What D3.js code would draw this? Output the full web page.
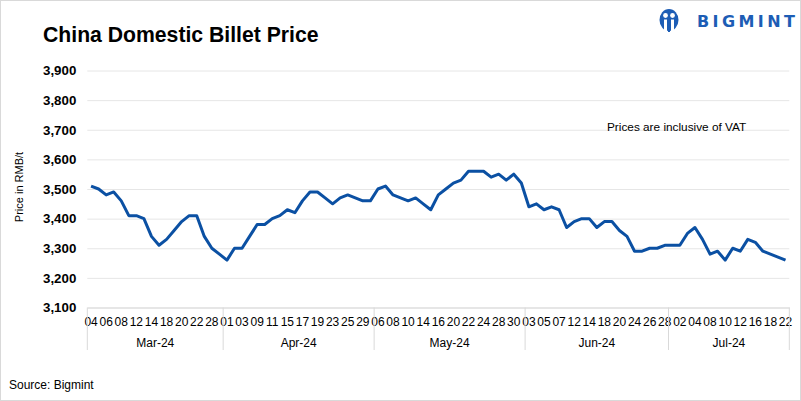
<!DOCTYPE html>
<html><head><meta charset="utf-8">
<script src="https://cdn.jsdelivr.net/npm/d3@7"></script>
<style>
body{margin:0;background:#fff;}
svg{display:block;font-family:"Liberation Sans",Arial,sans-serif;}
</style></head>
<body><svg id="c" width="801" height="401"></svg>
<script>
const months = ["Mar-24","Apr-24","May-24","Jun-24","Jul-24"];
const marDays = ["04","05","06","07","08","11","12","13","14","15","18","19","20","21","22","25","28","29"];
const aprDays = ["01","02","03","08","09","10","11","12","15","16","17","18","19","22","23","24","25","26","29","30"];
const mayDays = ["06","07","08","09","10","13","14","15","16","17","20","21","22","23","24","27","28","29","30","31"];
const junDays = ["03","04","05","06","07","11","12","13","14","17","18","19","20","21","24","25","26","27","28"];
const julDays = ["01","02","03","04","05","08","09","10","11","12","15","16","17","18","19","22"];
const marPrice = [3510,3500,3480,3490,3460,3410,3410,3400,3340,3310,3330,3360,3390,3410,3410,3340,3300,3280];
const aprPrice = [3260,3300,3300,3340,3380,3380,3400,3410,3430,3420,3460,3490,3490,3470,3450,3470,3480,3470,3460,3460];
const mayPrice = [3500,3510,3480,3470,3460,3470,3450,3430,3480,3500,3520,3530,3560,3560,3560,3540,3550,3530,3550,3520];
const junPrice = [3440,3450,3430,3440,3430,3370,3390,3400,3400,3370,3390,3390,3360,3340,3290,3290,3300,3300,3310];
const julPrice = [3310,3310,3350,3370,3330,3280,3290,3260,3300,3290,3330,3320,3290,3280,3270,3260];
const yTicks = [3100,3200,3300,3400,3500,3600,3700,3800,3900];

const dayGroups = [marDays,aprDays,mayDays,junDays,julDays];
const priceGroups = [marPrice,aprPrice,mayPrice,junPrice,julPrice];
const data = [];
dayGroups.forEach((g,mi)=>g.forEach((d,j)=>data.push({day:d,month:mi,value:priceGroups[mi][j]})));

const svg = d3.select("#c");
const L = 87.3, R = 789.3, T = 70.5, B = 307.5;
const x = d3.scaleBand().domain(d3.range(data.length)).range([L,R]).padding(0);
const y = d3.scaleLinear().domain([3100,3900]).range([B,T]);
const blue = "#0b50a3";

// outer border
svg.append("rect").attr("x",0.5).attr("y",0.5).attr("width",800).attr("height",400)
  .attr("fill","#fff").attr("stroke","#d9d9d9");

// title
svg.append("text").attr("x",43).attr("y",41.5).attr("font-size",21.2).attr("font-weight","bold")
  .attr("fill","#000").text("China Domestic Billet Price");

// gridlines
const grid = svg.append("g").attr("transform",`translate(${L},0)`)
  .call(d3.axisLeft(y).tickValues(yTicks).tickSize(-(R-L)).tickFormat(""));
grid.select(".domain").remove();
grid.selectAll("line").attr("stroke","#e6e6e6");

// y labels
const ya = svg.append("g").attr("transform",`translate(${L},0)`)
  .call(d3.axisLeft(y).tickValues(yTicks).tickSize(0).tickPadding(11).tickFormat(d3.format(",")));
ya.select(".domain").remove();
ya.selectAll("text").attr("font-size",13.3).attr("font-weight","bold").attr("fill","#000")
  .attr("font-family","'Liberation Sans',Arial,sans-serif");

// y title
svg.append("text").attr("transform","translate(23,187) rotate(-90)").attr("text-anchor","middle")
  .attr("font-size",11).attr("fill","#000").text("Price in RMB/t");

// x axis
const xa = svg.append("g").attr("transform",`translate(0,${B})`)
  .call(d3.axisBottom(x).tickValues(d3.range(0,data.length,2)).tickSize(0).tickPadding(10)
    .tickFormat(i=>data[i].day));
xa.select(".domain").attr("stroke","#d9d9d9");
xa.selectAll("text").attr("font-size",12).attr("fill","#000")
  .attr("font-family","'Liberation Sans',Arial,sans-serif");

// month separators and labels
let start = 0;
const bounds = [L];
dayGroups.forEach((g,mi)=>{
  const s = start, e = start + g.length - 1;
  const x0 = x(s), x1 = x(e) + x.bandwidth();
  bounds.push(x1);
  svg.append("text").attr("x",(x0+x1)/2).attr("y",347).attr("text-anchor","middle")
    .attr("font-size",12).attr("fill","#000").text(months[mi]);
  start += g.length;
});
svg.append("g").selectAll("line").data(bounds).join("line")
  .attr("x1",d=>d).attr("x2",d=>d).attr("y1",B).attr("y2",350)
  .attr("stroke","#d9d9d9");

// line
svg.append("path").datum(data)
  .attr("fill","none").attr("stroke",blue).attr("stroke-width",3).attr("stroke-linejoin","round")
  .attr("d",d3.line().x((d,i)=>x(i)+x.bandwidth()/2).y(d=>y(d.value)));

// note
svg.append("text").attr("x",607).attr("y",131).attr("font-size",11.8).attr("fill","#000")
  .text("Prices are inclusive of VAT");

// source
svg.append("text").attr("x",9).attr("y",389).attr("font-size",12).attr("fill","#000")
  .text("Source: Bigmint");

// logo
const logo = svg.append("g");
const lb = "#1d5db5";
logo.append("ellipse").attr("cx",669).attr("cy",20).attr("rx",9.5).attr("ry",11).attr("fill",lb);
logo.append("circle").attr("cx",665.5).attr("cy",15.5).attr("r",2.4).attr("fill","#fff");
logo.append("circle").attr("cx",672.5).attr("cy",15.5).attr("r",2.4).attr("fill","#fff");
logo.append("rect").attr("x",664).attr("y",19.5).attr("width",3).attr("height",12).attr("fill","#fff");
logo.append("rect").attr("x",671).attr("y",19.5).attr("width",3).attr("height",12).attr("fill","#fff");
logo.append("rect").attr("x",668).attr("y",22).attr("width",2).attr("height",10).attr("fill",lb);
logo.append("text").attr("x",697).attr("y",27).attr("font-size",16).attr("font-weight",900)
  .attr("letter-spacing",3.4).attr("fill",lb).attr("font-family","'DejaVu Sans',Arial,sans-serif")
  .text("BIGMINT");
</script></body></html>
